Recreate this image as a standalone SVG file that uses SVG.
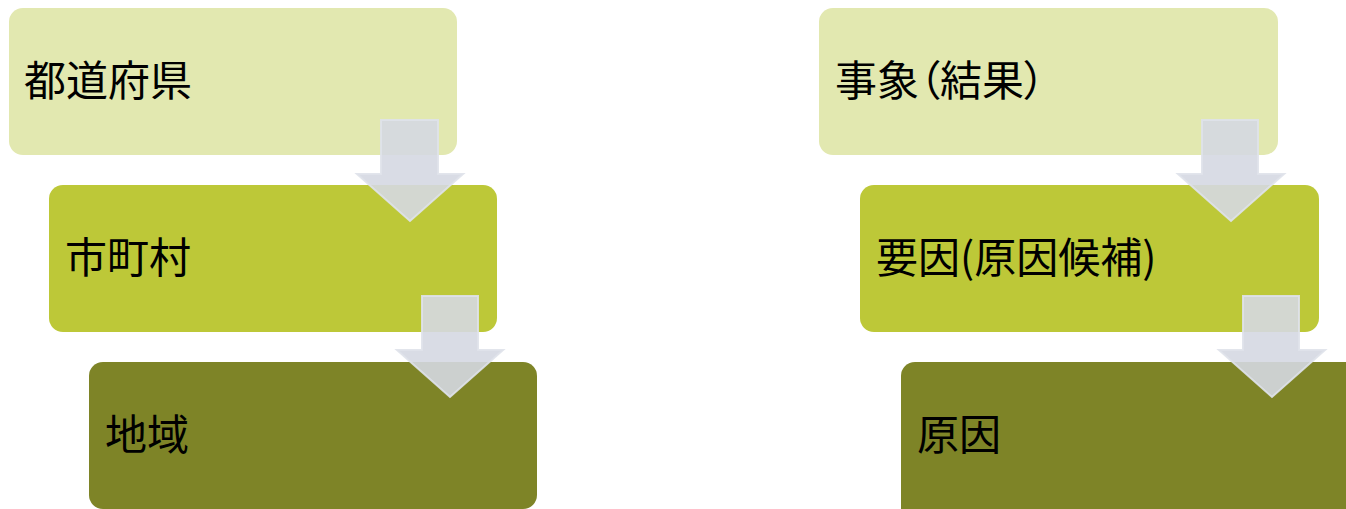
<svg xmlns="http://www.w3.org/2000/svg" width="1346" height="509" viewBox="0 0 1346 509">
<style>
.t{font-family:"Noto Sans CJK JP","Noto Sans CJK SC",sans-serif;font-size:42px;fill:#000}
.p{font-feature-settings:"palt" 1}
.b1{fill:#e2e8b0}
.b2{fill:#bdc838}
.b3{fill:#7e8427}
.ar{fill:#d5d8e2;fill-opacity:0.9;stroke:#dfe2ea;stroke-opacity:0.9;stroke-width:2}
</style>
<rect width="1346" height="509" fill="#ffffff"/>
<g id="n1"><rect class="b1" x="9" y="8" width="448" height="147" rx="14"/><text class="t" x="24" y="96">都道府県</text></g>
<g id="n2"><rect class="b2" x="49" y="185" width="448" height="147" rx="14"/><text class="t" x="65" y="273">市町村</text></g>
<g id="n3"><rect class="b3" x="89" y="362" width="448" height="147" rx="14"/><text class="t" x="105" y="450">地域</text></g>
<g id="n4"><rect class="b1" x="819" y="8" width="459" height="147" rx="14"/><text class="t p" x="835" y="96">事象（結果）</text></g>
<g id="n5"><rect class="b2" x="860" y="185" width="459" height="147" rx="14"/><text class="t" x="876" y="273">要因(原因候補)</text></g>
<g id="n6"><rect class="b3" x="901" y="362" width="459" height="160" rx="14"/><text class="t" x="917" y="450">原因</text></g>
<g id="connectors">
<path class="ar" d="M381 120H438V174H463L410 221L357 174H381Z"/>
<path class="ar" d="M422 296H478V350H503L450 397L397 350H422Z"/>
<path class="ar" d="M1202 120H1258V174H1284L1231 221L1178 174H1202Z"/>
<path class="ar" d="M1243 296H1299V350H1325L1272 397L1219 350H1243Z"/>
</g>
</svg>
